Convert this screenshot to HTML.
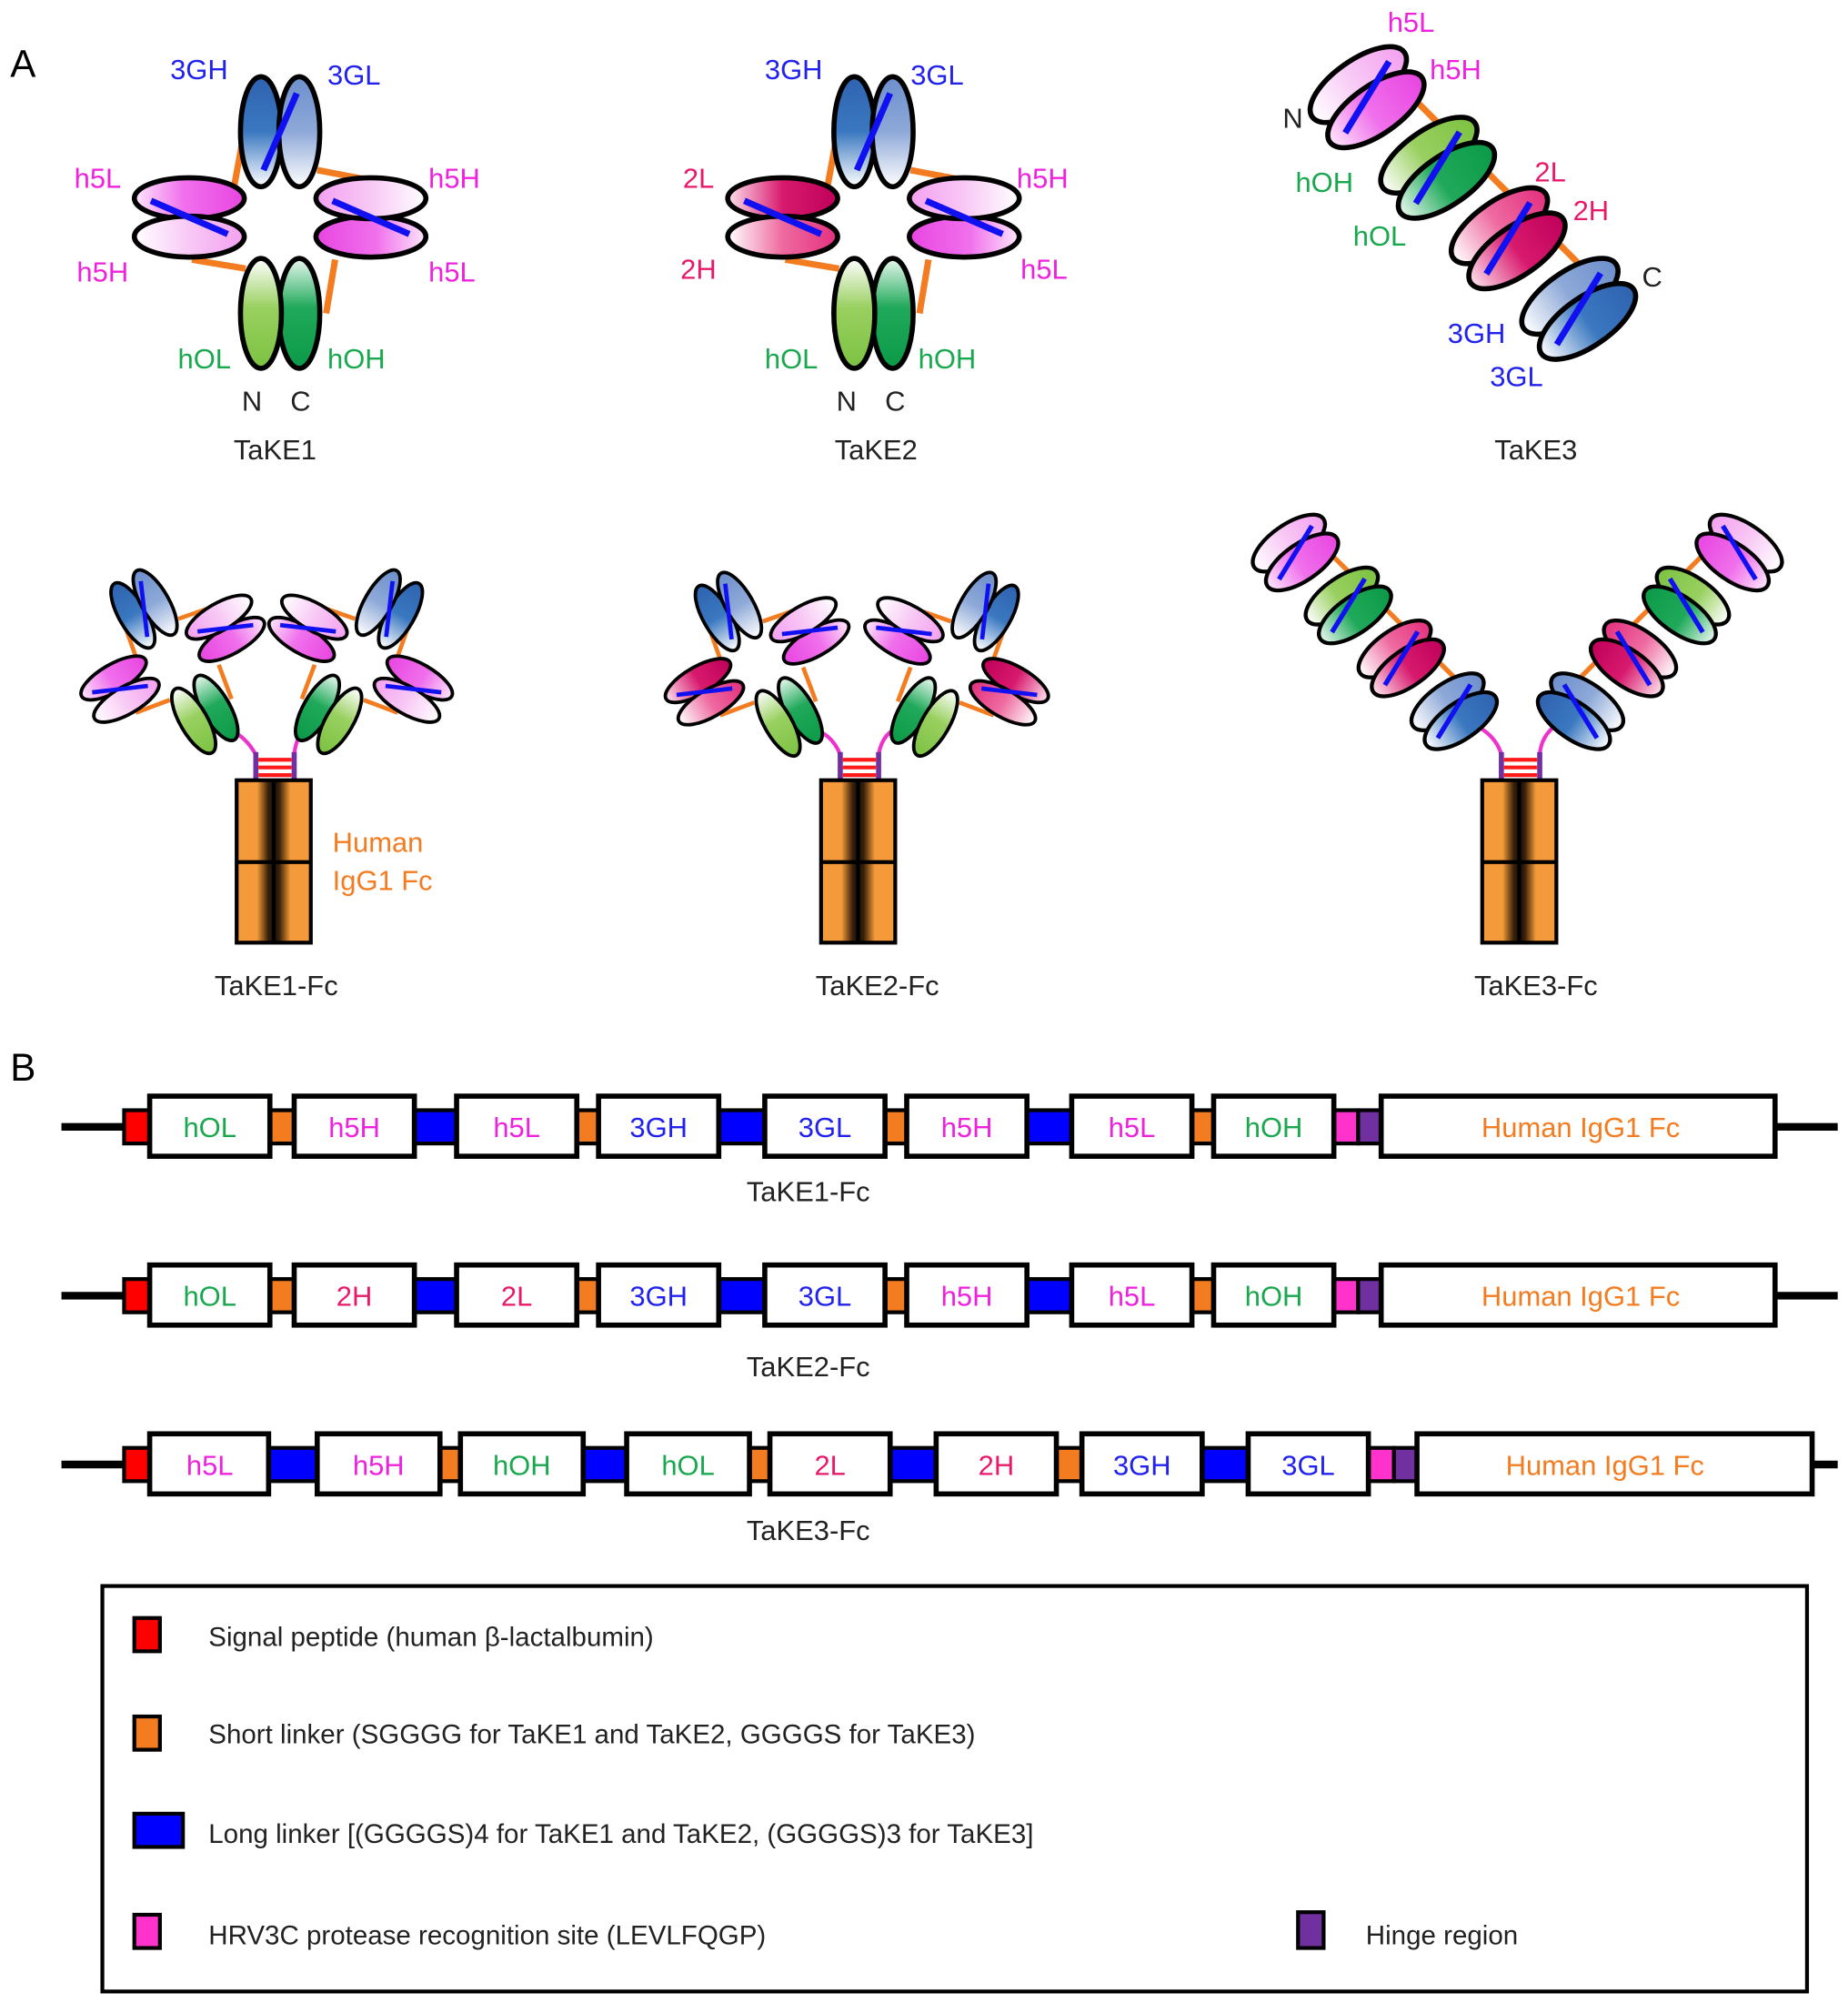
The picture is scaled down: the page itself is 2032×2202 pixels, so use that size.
<!DOCTYPE html>
<html><head><meta charset="utf-8"><style>
html,body{margin:0;padding:0;background:#fff}
svg{display:block}
text{font-family:"Liberation Sans",Arial,sans-serif}
</style></head><body>
<svg width="2032" height="2202" viewBox="0 0 1445 1566" xmlns="http://www.w3.org/2000/svg">
<defs>
<linearGradient id="bA" x1="0" y1="0" x2="0" y2="1"><stop offset="0" stop-color="#2f62b0"/><stop offset="0.5" stop-color="#3a78c0"/><stop offset="1" stop-color="#fff"/></linearGradient>
<linearGradient id="bB" x1="0" y1="0" x2="0" y2="1"><stop offset="0" stop-color="#6d8fcc"/><stop offset="0.5" stop-color="#8ea9d8"/><stop offset="1" stop-color="#fff"/></linearGradient>
<linearGradient id="pA" x1="0" y1="0" x2="0" y2="1"><stop offset="0" stop-color="#e845e0"/><stop offset="0.55" stop-color="#f070ec"/><stop offset="1" stop-color="#fde6fb"/></linearGradient>
<linearGradient id="pB" x1="0" y1="0" x2="0" y2="1"><stop offset="0" stop-color="#f4a0f0"/><stop offset="0.5" stop-color="#f8c8f5"/><stop offset="1" stop-color="#fff"/></linearGradient>
<linearGradient id="gA" x1="0" y1="0" x2="0" y2="1"><stop offset="0" stop-color="#0b9a48"/><stop offset="0.55" stop-color="#20a95a"/><stop offset="1" stop-color="#e8f8ee"/></linearGradient>
<linearGradient id="gB" x1="0" y1="0" x2="0" y2="1"><stop offset="0" stop-color="#7cc242"/><stop offset="0.55" stop-color="#99d060"/><stop offset="1" stop-color="#fff"/></linearGradient>
<linearGradient id="rA" x1="0" y1="0" x2="0" y2="1"><stop offset="0" stop-color="#c0005a"/><stop offset="0.5" stop-color="#d81a6e"/><stop offset="1" stop-color="#fde0ec"/></linearGradient>
<linearGradient id="rB" x1="0" y1="0" x2="0" y2="1"><stop offset="0" stop-color="#e4307e"/><stop offset="0.5" stop-color="#ee6aa0"/><stop offset="1" stop-color="#fff"/></linearGradient>
<linearGradient id="fc" x1="0" y1="0" x2="1" y2="0"><stop offset="0" stop-color="#f49a3a"/><stop offset="0.55" stop-color="#f49a3a"/><stop offset="0.85" stop-color="#3a2008"/><stop offset="1" stop-color="#111"/></linearGradient>
<linearGradient id="fc2" x1="0" y1="0" x2="1" y2="0"><stop offset="0" stop-color="#111"/><stop offset="0.15" stop-color="#3a2008"/><stop offset="0.45" stop-color="#f49a3a"/><stop offset="1" stop-color="#f49a3a"/></linearGradient>

<g id="pairB"><ellipse cx="-15" cy="0" rx="16" ry="43" fill="url(#bA)" stroke="#000" stroke-width="4"/><ellipse cx="15" cy="0" rx="16" ry="43" fill="url(#bB)" stroke="#000" stroke-width="4"/><line x1="-13" y1="30" x2="13" y2="-30" stroke="#1010f0" stroke-width="5"/></g>
<g id="pairP"><ellipse cx="-15" cy="0" rx="16" ry="43" fill="url(#pA)" stroke="#000" stroke-width="4"/><ellipse cx="15" cy="0" rx="16" ry="43" fill="url(#pB)" stroke="#000" stroke-width="4"/><line x1="-13" y1="30" x2="13" y2="-30" stroke="#1010f0" stroke-width="5"/></g>
<g id="pairR"><ellipse cx="-15" cy="0" rx="16" ry="43" fill="url(#rA)" stroke="#000" stroke-width="4"/><ellipse cx="15" cy="0" rx="16" ry="43" fill="url(#rB)" stroke="#000" stroke-width="4"/><line x1="-13" y1="30" x2="13" y2="-30" stroke="#1010f0" stroke-width="5"/></g>
<g id="pairG"><ellipse cx="-15" cy="0" rx="16" ry="43" fill="url(#gA)" stroke="#000" stroke-width="4"/><ellipse cx="15" cy="0" rx="16" ry="43" fill="url(#gB)" stroke="#000" stroke-width="4"/></g>

<g id="cP"><ellipse cx="-12" cy="0" rx="19" ry="44" fill="url(#pB)" stroke="#000" stroke-width="4"/><ellipse cx="12" cy="0" rx="19" ry="44" fill="url(#pA)" stroke="#000" stroke-width="4"/><line x1="13" y1="30" x2="-13" y2="-30" stroke="#1010f0" stroke-width="5"/></g>
<g id="cG"><ellipse cx="-12" cy="0" rx="19" ry="44" fill="url(#gB)" stroke="#000" stroke-width="4"/><ellipse cx="12" cy="0" rx="19" ry="44" fill="url(#gA)" stroke="#000" stroke-width="4"/><line x1="13" y1="30" x2="-13" y2="-30" stroke="#1010f0" stroke-width="5"/></g>
<g id="cR"><ellipse cx="-12" cy="0" rx="19" ry="44" fill="url(#rB)" stroke="#000" stroke-width="4"/><ellipse cx="12" cy="0" rx="19" ry="44" fill="url(#rA)" stroke="#000" stroke-width="4"/><line x1="13" y1="30" x2="-13" y2="-30" stroke="#1010f0" stroke-width="5"/></g>
<g id="cB"><ellipse cx="-12" cy="0" rx="19" ry="44" fill="url(#bB)" stroke="#000" stroke-width="4"/><ellipse cx="12" cy="0" rx="19" ry="44" fill="url(#bA)" stroke="#000" stroke-width="4"/><line x1="13" y1="30" x2="-13" y2="-30" stroke="#1010f0" stroke-width="5"/></g>

<g id="lnk" stroke="#f47c20" stroke-width="5" fill="none">
<line x1="-29" y1="-62" x2="-36" y2="-24"/><line x1="29" y1="-37" x2="71" y2="-29"/><line x1="-69" y1="33" x2="-27" y2="40"/><line x1="43" y1="33" x2="36" y2="75"/>
</g>
<g id="ring1"><use href="#lnk"/><use href="#pairB" transform="translate(0,-67)"/><use href="#pairP" transform="translate(-71,0) rotate(90)"/><use href="#pairP" transform="translate(71,0) rotate(-90)"/><use href="#pairG" transform="translate(0,75) rotate(180)"/></g>
<g id="ring2"><use href="#lnk"/><use href="#pairB" transform="translate(0,-67)"/><use href="#pairR" transform="translate(-71,0) rotate(90)"/><use href="#pairP" transform="translate(71,0) rotate(-90)"/><use href="#pairG" transform="translate(0,75) rotate(180)"/></g>
<g id="chain">
<g stroke="#f47c20" stroke-width="5"><line x1="26" y1="-25" x2="52" y2="-25"/><line x1="104" y1="-25" x2="130" y2="-25"/><line x1="182" y1="-25" x2="208" y2="-25"/></g>
<use href="#cP" transform="translate(0,0) rotate(10)"/><use href="#cG" transform="translate(78,0) rotate(10)"/><use href="#cR" transform="translate(156,0) rotate(10)"/><use href="#cB" transform="translate(234,0) rotate(10)"/>
</g>
<g id="fcblk">
<rect x="0" y="0" width="29" height="127" fill="url(#fc)"/><rect x="29" y="0" width="29" height="127" fill="url(#fc2)"/>
<rect x="0" y="0" width="58" height="127" fill="none" stroke="#000" stroke-width="3"/>
<line x1="29" y1="0" x2="29" y2="127" stroke="#000" stroke-width="3"/><line x1="0" y1="64" x2="58" y2="64" stroke="#000" stroke-width="3"/>
</g>
<g id="hinge">
<line x1="0" y1="-22" x2="0" y2="0" stroke="#7030a0" stroke-width="4"/><line x1="30" y1="-22" x2="30" y2="0" stroke="#7030a0" stroke-width="4"/>
<g stroke="#ff1a1a" stroke-width="3"><line x1="2" y1="-16" x2="28" y2="-16"/><line x1="2" y1="-10" x2="28" y2="-10"/><line x1="2" y1="-4" x2="28" y2="-4"/></g>
</g>
</defs>

<text x="8" y="60" font-size="30">A</text>
<text x="8" y="845" font-size="30">B</text>

<use href="#ring1" transform="translate(219,170)"/>
<g font-size="22">
<text x="133" y="62" fill="#2222ee">3GH</text><text x="256" y="66" fill="#2222ee">3GL</text>
<text x="58" y="147" fill="#ee22dd">h5L</text><text x="60" y="220" fill="#ee22dd">h5H</text>
<text x="335" y="147" fill="#ee22dd">h5H</text><text x="335" y="220" fill="#ee22dd">h5L</text>
<text x="139" y="288" fill="#1aa84f">hOL</text><text x="256" y="288" fill="#1aa84f">hOH</text>
<text x="189" y="321" fill="#222">N</text><text x="227" y="321" fill="#222">C</text>
<text x="215" y="359" fill="#222" text-anchor="middle">TaKE1</text>
</g>

<use href="#ring2" transform="translate(683,170)"/>
<g font-size="22">
<text x="598" y="62" fill="#2222ee">3GH</text><text x="712" y="66" fill="#2222ee">3GL</text>
<text x="534" y="147" fill="#e8196b">2L</text><text x="532" y="218" fill="#e8196b">2H</text>
<text x="795" y="147" fill="#ee22dd">h5H</text><text x="798" y="218" fill="#ee22dd">h5L</text>
<text x="598" y="288" fill="#1aa84f">hOL</text><text x="718" y="288" fill="#1aa84f">hOH</text>
<text x="654" y="321" fill="#222">N</text><text x="692" y="321" fill="#222">C</text>
<text x="685" y="359" fill="#222" text-anchor="middle">TaKE2</text>
</g>

<use href="#chain" transform="translate(1069,76) rotate(45)"/>
<g font-size="22">
<text x="1085" y="25" fill="#ee22dd">h5L</text><text x="1118" y="62" fill="#ee22dd">h5H</text>
<text x="1003" y="100" fill="#222">N</text>
<text x="1013" y="150" fill="#1aa84f">hOH</text><text x="1058" y="192" fill="#1aa84f">hOL</text>
<text x="1200" y="142" fill="#e8196b">2L</text><text x="1230" y="172" fill="#e8196b">2H</text>
<text x="1284" y="224" fill="#222">C</text>
<text x="1132" y="268" fill="#2222ee">3GH</text><text x="1165" y="302" fill="#2222ee">3GL</text>
<text x="1201" y="359" fill="#222" text-anchor="middle">TaKE3</text>
</g>

<g stroke="#ee33cc" stroke-width="3" fill="none"><path d="M172,568 Q190,572 200,590"/><path d="M242,568 Q232,572 230,590"/></g>
<use href="#ring1" transform="translate(135,515) rotate(-30) scale(0.67)"/>
<use href="#ring1" transform="translate(282,515) scale(-1,1) rotate(-30) scale(0.67)"/>
<use href="#hinge" transform="translate(200,610)"/>
<use href="#fcblk" transform="translate(185,610)"/>
<text x="260" y="666" font-size="22" fill="#f47c20">Human</text>
<text x="260" y="696" font-size="22" fill="#f47c20">IgG1 Fc</text>
<text x="216" y="778" font-size="22" fill="#222" text-anchor="middle">TaKE1-Fc</text>

<g stroke="#ee33cc" stroke-width="3" fill="none"><path d="M630,568 Q650,572 657,590"/><path d="M705,568 Q690,572 687,590"/></g>
<use href="#ring2" transform="translate(592,517) rotate(-30) scale(0.67)"/>
<use href="#ring2" transform="translate(748,517) scale(-1,1) rotate(-30) scale(0.67)"/>
<use href="#hinge" transform="translate(657,610)"/>
<use href="#fcblk" transform="translate(642,610)"/>
<text x="686" y="778" font-size="22" fill="#222" text-anchor="middle">TaKE2-Fc</text>

<g stroke="#ee33cc" stroke-width="3" fill="none"><path d="M1152,566 Q1170,575 1174,590"/><path d="M1218,566 Q1205,575 1204,590"/></g>
<use href="#chain" transform="translate(1013,432) rotate(45) scale(0.75)"/>
<use href="#chain" transform="translate(1360,432) scale(-1,1) rotate(45) scale(0.75)"/>
<use href="#hinge" transform="translate(1174,610)"/>
<use href="#fcblk" transform="translate(1159,610)"/>
<text x="1201" y="778" font-size="22" fill="#222" text-anchor="middle">TaKE3-Fc</text>

<g stroke="#000">
<line x1="48" y1="881" x2="1437" y2="881" stroke-width="6"/>
<g stroke-width="3">
<rect x="97" y="868" width="20" height="26" fill="#ff0000"/>
<rect x="211" y="868" width="19" height="26" fill="#f47c20"/>
<rect x="324" y="868" width="33" height="26" fill="#0000ff"/>
<rect x="451" y="868" width="17" height="26" fill="#f47c20"/>
<rect x="562" y="868" width="36" height="26" fill="#0000ff"/>
<rect x="692" y="868" width="17" height="26" fill="#f47c20"/>
<rect x="803" y="868" width="35" height="26" fill="#0000ff"/>
<rect x="932" y="868" width="17" height="26" fill="#f47c20"/>
<rect x="1043" y="868" width="19" height="26" fill="#ff33cc"/>
<rect x="1062" y="868" width="18" height="26" fill="#7030a0"/>
</g>
<g stroke-width="4" fill="#fff">
<rect x="117" y="857" width="94" height="47"/><rect x="230" y="857" width="94" height="47"/><rect x="357" y="857" width="94" height="47"/><rect x="468" y="857" width="94" height="47"/><rect x="598" y="857" width="94" height="47"/><rect x="709" y="857" width="94" height="47"/><rect x="838" y="857" width="94" height="47"/><rect x="949" y="857" width="94" height="47"/><rect x="1080" y="857" width="308" height="47"/>
</g>
<line x1="48" y1="1013" x2="1437" y2="1013" stroke-width="6"/>
<g stroke-width="3">
<rect x="97" y="1000" width="20" height="26" fill="#ff0000"/>
<rect x="211" y="1000" width="19" height="26" fill="#f47c20"/>
<rect x="324" y="1000" width="33" height="26" fill="#0000ff"/>
<rect x="451" y="1000" width="17" height="26" fill="#f47c20"/>
<rect x="562" y="1000" width="36" height="26" fill="#0000ff"/>
<rect x="692" y="1000" width="17" height="26" fill="#f47c20"/>
<rect x="803" y="1000" width="35" height="26" fill="#0000ff"/>
<rect x="932" y="1000" width="17" height="26" fill="#f47c20"/>
<rect x="1043" y="1000" width="19" height="26" fill="#ff33cc"/>
<rect x="1062" y="1000" width="18" height="26" fill="#7030a0"/>
</g>
<g stroke-width="4" fill="#fff">
<rect x="117" y="989" width="94" height="47"/><rect x="230" y="989" width="94" height="47"/><rect x="357" y="989" width="94" height="47"/><rect x="468" y="989" width="94" height="47"/><rect x="598" y="989" width="94" height="47"/><rect x="709" y="989" width="94" height="47"/><rect x="838" y="989" width="94" height="47"/><rect x="949" y="989" width="94" height="47"/><rect x="1080" y="989" width="308" height="47"/>
</g>
<line x1="48" y1="1145" x2="1437" y2="1145" stroke-width="6"/>
<g stroke-width="3">
<rect x="97" y="1132" width="20" height="26" fill="#ff0000"/>
<rect x="210" y="1132" width="38" height="26" fill="#0000ff"/>
<rect x="344" y="1132" width="16" height="26" fill="#f47c20"/>
<rect x="456" y="1132" width="34" height="26" fill="#0000ff"/>
<rect x="586" y="1132" width="16" height="26" fill="#f47c20"/>
<rect x="696" y="1132" width="36" height="26" fill="#0000ff"/>
<rect x="826" y="1132" width="20" height="26" fill="#f47c20"/>
<rect x="940" y="1132" width="36" height="26" fill="#0000ff"/>
<rect x="1070" y="1132" width="20" height="26" fill="#ff33cc"/>
<rect x="1090" y="1132" width="18" height="26" fill="#7030a0"/>
</g>
<g stroke-width="4" fill="#fff">
<rect x="117" y="1121" width="93" height="47"/><rect x="248" y="1121" width="96" height="47"/><rect x="360" y="1121" width="96" height="47"/><rect x="490" y="1121" width="96" height="47"/><rect x="602" y="1121" width="94" height="47"/><rect x="732" y="1121" width="94" height="47"/><rect x="846" y="1121" width="94" height="47"/><rect x="976" y="1121" width="94" height="47"/><rect x="1108" y="1121" width="309" height="47"/>
</g>
</g>
<g font-size="22" text-anchor="middle">
<text x="164" y="889" fill="#1aa84f">hOL</text><text x="277" y="889" fill="#ee22dd">h5H</text><text x="404" y="889" fill="#ee22dd">h5L</text><text x="515" y="889" fill="#2222ee">3GH</text><text x="645" y="889" fill="#2222ee">3GL</text><text x="756" y="889" fill="#ee22dd">h5H</text><text x="885" y="889" fill="#ee22dd">h5L</text><text x="996" y="889" fill="#1aa84f">hOH</text><text x="1236" y="889" fill="#f47c20">Human IgG1 Fc</text>
<text x="632" y="939" fill="#222">TaKE1-Fc</text>
<text x="164" y="1021" fill="#1aa84f">hOL</text><text x="277" y="1021" fill="#e8196b">2H</text><text x="404" y="1021" fill="#e8196b">2L</text><text x="515" y="1021" fill="#2222ee">3GH</text><text x="645" y="1021" fill="#2222ee">3GL</text><text x="756" y="1021" fill="#ee22dd">h5H</text><text x="885" y="1021" fill="#ee22dd">h5L</text><text x="996" y="1021" fill="#1aa84f">hOH</text><text x="1236" y="1021" fill="#f47c20">Human IgG1 Fc</text>
<text x="632" y="1076" fill="#222">TaKE2-Fc</text>
<text x="164" y="1153" fill="#ee22dd">h5L</text><text x="296" y="1153" fill="#ee22dd">h5H</text><text x="408" y="1153" fill="#1aa84f">hOH</text><text x="538" y="1153" fill="#1aa84f">hOL</text><text x="649" y="1153" fill="#e8196b">2L</text><text x="779" y="1153" fill="#e8196b">2H</text><text x="893" y="1153" fill="#2222ee">3GH</text><text x="1023" y="1153" fill="#2222ee">3GL</text><text x="1255" y="1153" fill="#f47c20">Human IgG1 Fc</text>
<text x="632" y="1204" fill="#222">TaKE3-Fc</text>
</g>

<rect x="80" y="1240" width="1333" height="317" fill="none" stroke="#000" stroke-width="3"/>
<g stroke="#000" stroke-width="3">
<rect x="105" y="1265" width="20" height="26" fill="#ff0000"/>
<rect x="105" y="1342" width="20" height="26" fill="#f47c20"/>
<rect x="105" y="1418" width="38" height="26" fill="#0000ff"/>
<rect x="105" y="1497" width="20" height="26" fill="#ff33cc"/>
<rect x="1015" y="1495" width="20" height="28" fill="#7030a0"/>
</g>
<g font-size="21" fill="#222">
<text x="163" y="1287">Signal peptide (human β-lactalbumin)</text>
<text x="163" y="1363">Short linker (SGGGG for TaKE1 and TaKE2, GGGGS for TaKE3)</text>
<text x="163" y="1441">Long linker [(GGGGS)4 for TaKE1 and TaKE2, (GGGGS)3 for TaKE3]</text>
<text x="163" y="1520">HRV3C protease recognition site (LEVLFQGP)</text>
<text x="1068" y="1520">Hinge region</text>
</g>
</svg>
</body></html>
